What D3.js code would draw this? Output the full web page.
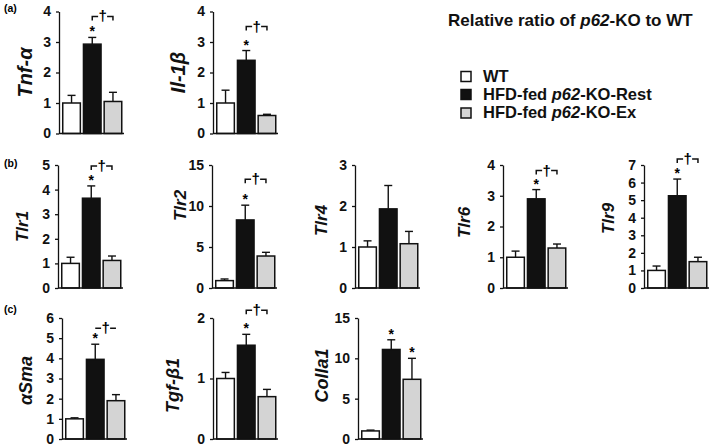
<!DOCTYPE html>
<html><head><meta charset="utf-8">
<script src="https://cdn.jsdelivr.net/npm/d3@7"></script>
<style>
body{margin:0;background:#fff}
svg{display:block;font-family:"Liberation Sans",Arial,Helvetica,sans-serif}
</style>
</head><body>
<svg id="chart" width="709" height="447"></svg>
<script>
// ---------------- data ----------------
const genes    = ["Tnf-α","Il-1β","Tlr1","Tlr2","Tlr4","Tlr6","Tlr9","αSma","Tgf-β1","Colla1"];
const groups   = ["WT","HFD-fed p62-KO-Rest","HFD-fed p62-KO-Ex"];
const wtMean   = [1.0, 1.0, 1.0, 0.9, 1.0, 1.0, 1.0, 1.0, 1.0, 1.0];
const wtErr    = [0.25,0.42,0.25,0.2, 0.15,0.2, 0.25,0.05,0.1, 0.1];
const restMean = [2.93,2.4, 3.65,8.3, 1.93,2.9, 5.25,3.95,1.55,11.1];
const restErr  = [0.22,0.32,0.5, 1.8, 0.57,0.3, 0.95,0.75,0.18,1.2];
const exMean   = [1.05,0.59,1.12,3.9, 1.08,1.3, 1.5, 1.9, 0.7, 7.4];
const exErr    = [0.3, 0.04,0.18,0.45,0.3, 0.13,0.25,0.3, 0.12,2.6];
const axisMax  = [4, 4, 5, 15, 3, 4, 7, 6, 2, 15];
const tickStep = [1, 1, 1, 5, 1, 1, 1, 1, 1, 5];
const starRest = [true,true,true,true,false,true,true,true,true,true];
const starEx   = [false,false,false,false,false,false,false,false,false,true];
const dagger   = [true,true,true,true,false,true,true,true,true,false];
const panelTags = ["(a)","(b)","(c)"];
const titleParts = [["Relative ratio of ",false],["p62",true],["-KO to WT",false]];
const legendParts = [[["WT",false]],
                     [["HFD-fed ",false],["p62",true],["-KO-Rest",false]],
                     [["HFD-fed ",false],["p62",true],["-KO-Ex",false]]];
const fills = ["#ffffff","#111111","#d4d4d4"];

// ---------------- layout ----------------
const rowY   = [[11.5,133.5],[165,288],[318,439]];
const panelRow = [0,0,1,1,1,1,1,2,2,2];
const panelX   = [59,213,58,212,355,503,644,62,213,358];
const labelDX  = [-34,-35,-36,-32,-34,-39,-36,-36,-40,-36];
const labelDY  = [0,0,0,-21,-6,-4,-8,2,7,-3];
const labelSize= [20,20,17,17,17,17,17,18,18,18];
const bracketGap = [21,24,20,26,20,19,20,16,24,20];
const bracketTick = [4,4,4,4,4,4,4,0,4,4];
const plotW = 65;

const svg = d3.select("#chart");

panelTags.forEach((t,i)=>{
  svg.append("text").attr("x",4).attr("y",[12,167,313][i])
    .attr("font-size",10.5).attr("font-weight","bold").text(t);
});

genes.forEach((g,i)=>{
  const [yTop,yBot] = rowY[panelRow[i]];
  const x0 = panelX[i];
  const y = d3.scaleLinear().domain([0,axisMax[i]]).range([yBot,yTop]);
  const x = d3.scaleBand().domain(groups).range([x0+2.5,x0+plotW-1]).paddingInner(0.15).paddingOuter(0.06);
  const gp = svg.append("g");
  const means = [wtMean[i],restMean[i],exMean[i]];
  const errs  = [wtErr[i],restErr[i],exErr[i]];
  const rows = groups.map((k,j)=>({k,m:means[j],e:errs[j],f:fills[j]}));

  rows.forEach(d=>{
    const cx = x(d.k)+x.bandwidth()/2;
    gp.append("line").attr("x1",cx).attr("x2",cx).attr("y1",y(d.m)).attr("y2",y(d.m+d.e))
      .attr("stroke","#111").attr("stroke-width",1.4);
    gp.append("line").attr("x1",cx-4).attr("x2",cx+4).attr("y1",y(d.m+d.e)).attr("y2",y(d.m+d.e))
      .attr("stroke","#111").attr("stroke-width",1.4);
  });
  gp.selectAll("rect.bar").data(rows).join("rect")
    .attr("x",d=>x(d.k)).attr("width",x.bandwidth())
    .attr("y",d=>y(d.m)).attr("height",d=>y(0)-y(d.m))
    .attr("fill",d=>d.f).attr("stroke","#111").attr("stroke-width",1.5);

  const ax = d3.axisLeft(y).tickValues(d3.range(0,axisMax[i]+0.001,tickStep[i]))
    .tickSize(3).tickSizeOuter(0).tickPadding(5).tickFormat(d3.format("d"));
  const ag = svg.append("g").attr("transform",`translate(${x0},0)`).call(ax);
  ag.attr("font-family",null).attr("font-size",null);
  ag.select(".domain").attr("stroke","#111").attr("stroke-width",1.3);
  ag.selectAll(".tick line").attr("stroke","#111").attr("stroke-width",1.3);
  ag.selectAll(".tick text").attr("font-size",14).attr("font-weight","bold").attr("fill","#111");
  svg.append("line").attr("x1",x0).attr("x2",x0+plotW).attr("y1",y(0)).attr("y2",y(0))
    .attr("stroke","#111").attr("stroke-width",1.3);

  const ly = (yTop+yBot)/2 + labelDY[i];
  const lx = x0 + labelDX[i];
  svg.append("text").attr("transform",`translate(${lx},${ly}) rotate(-90)`)
    .attr("text-anchor","middle").attr("dominant-baseline","central")
    .attr("font-size",labelSize[i]).attr("font-weight","bold").attr("font-style","italic").attr("fill","#111").text(g);

  const cR = x(groups[1])+x.bandwidth()/2, cE = x(groups[2])+x.bandwidth()/2;
  if(starRest[i]) svg.append("text").attr("x",cR).attr("y",y(restMean[i]+restErr[i])-1)
    .attr("text-anchor","middle").attr("font-size",14).attr("font-weight","bold").text("*");
  if(starEx[i]) svg.append("text").attr("x",cE).attr("y",y(exMean[i]+exErr[i])-1)
    .attr("text-anchor","middle").attr("font-size",14).attr("font-weight","bold").text("*");
  if(dagger[i]){
    const B = y(restMean[i]+restErr[i]) - bracketGap[i];
    const cm = (cR+cE)/2, tk = bracketTick[i];
    const p = d3.path();
    p.moveTo(cR,B+tk); p.lineTo(cR,B); p.lineTo(cm-4.5,B);
    p.moveTo(cm+4.5,B); p.lineTo(cE,B); p.lineTo(cE,B+tk);
    svg.append("path").attr("d",p.toString()).attr("fill","none").attr("stroke","#111").attr("stroke-width",1.5);
    svg.append("text").attr("x",cm).attr("y",B+5).attr("text-anchor","middle")
      .attr("font-size",15).attr("font-weight","bold").text("†");
  }
});

const tt = svg.append("text").attr("x",448).attr("y",26).attr("font-size",17).attr("font-weight","bold").attr("fill","#111");
titleParts.forEach(([s,it])=>tt.append("tspan").attr("font-style",it?"italic":"normal").text(s));

groups.forEach((gname,j)=>{
  const yy = [71.5,89.5,108][j];
  svg.append("rect").attr("x",461).attr("y",yy).attr("width",10).attr("height",10)
    .attr("fill",fills[j]).attr("stroke","#111").attr("stroke-width",1.5);
  const t = svg.append("text").attr("x",483).attr("y",yy+10).attr("font-size",16.5).attr("font-weight","bold").attr("fill","#111");
  legendParts[j].forEach(([s,it])=>t.append("tspan").attr("font-style",it?"italic":"normal").text(s));
});
</script>
</body></html>
